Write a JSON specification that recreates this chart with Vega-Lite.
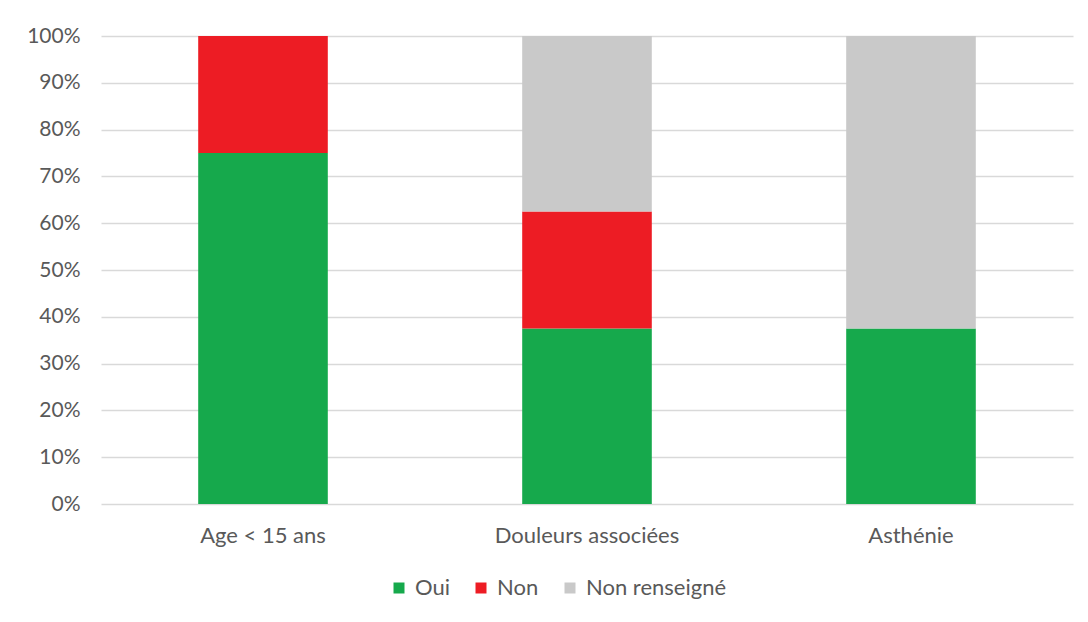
{
  "$schema": "https://vega.github.io/schema/vega-lite/v6.json",
  "width": 972,
  "height": 468,
  "autosize": {"type": "none"},
  "padding": {"left": 101, "top": 36, "right": 15, "bottom": 118},
  "background": "white",
  "config": {
    "font": "Lato",
    "view": {"stroke": null},
    "axis": {"labelFont": "Lato", "labelColor": "#595959", "labelFontSize": 21},
    "legend": {"labelFont": "Lato", "labelColor": "#595959", "labelFontSize": 22}
  },
  "data": {
    "values": [
      {"categorie": "Age < 15 ans", "reponse": "Oui", "ordre": 1, "valeur": 75},
      {"categorie": "Age < 15 ans", "reponse": "Non", "ordre": 2, "valeur": 25},
      {"categorie": "Age < 15 ans", "reponse": "Non renseigné", "ordre": 3, "valeur": 0},
      {"categorie": "Douleurs associées", "reponse": "Oui", "ordre": 1, "valeur": 37.5},
      {"categorie": "Douleurs associées", "reponse": "Non", "ordre": 2, "valeur": 25},
      {"categorie": "Douleurs associées", "reponse": "Non renseigné", "ordre": 3, "valeur": 37.5},
      {"categorie": "Asthénie", "reponse": "Oui", "ordre": 1, "valeur": 37.5},
      {"categorie": "Asthénie", "reponse": "Non", "ordre": 2, "valeur": 0},
      {"categorie": "Asthénie", "reponse": "Non renseigné", "ordre": 3, "valeur": 62.5}
    ]
  },
  "mark": {"type": "bar"},
  "encoding": {
    "x": {
      "field": "categorie",
      "type": "nominal",
      "sort": ["Age < 15 ans", "Douleurs associées", "Asthénie"],
      "scale": {"paddingInner": 0.6, "paddingOuter": 0.3},
      "axis": {"title": null, "labelAngle": 0, "ticks": false, "domain": false, "labelPadding": 21, "labelFontSize": 22, "labelLimit": 0}
    },
    "y": {
      "field": "valeur",
      "type": "quantitative",
      "stack": "normalize",
      "scale": {"domain": [0, 1]},
      "axis": {
        "title": null,
        "format": ".0%",
        "values": [0, 0.1, 0.2, 0.3, 0.4, 0.5, 0.6, 0.7, 0.8, 0.9, 1],
        "ticks": false,
        "domain": false,
        "labelPadding": 21,
        "gridColor": "#d9d9d9",
        "gridWidth": 1.5
      }
    },
    "color": {
      "field": "reponse",
      "type": "nominal",
      "scale": {"domain": ["Oui", "Non", "Non renseigné"], "range": ["#16a94c", "#ed1c24", "#c9c9c9"]},
      "legend": {
        "title": null,
        "orient": "none",
        "legendX": 287,
        "legendY": 541,
        "direction": "horizontal",
        "symbolType": "square",
        "symbolSize": 121,
        "symbolStrokeWidth": 0,
        "columnPadding": 20,
        "labelOffset": 5,
        "labelLimit": 0
      }
    },
    "order": {"field": "ordre", "type": "quantitative"}
  }
}
